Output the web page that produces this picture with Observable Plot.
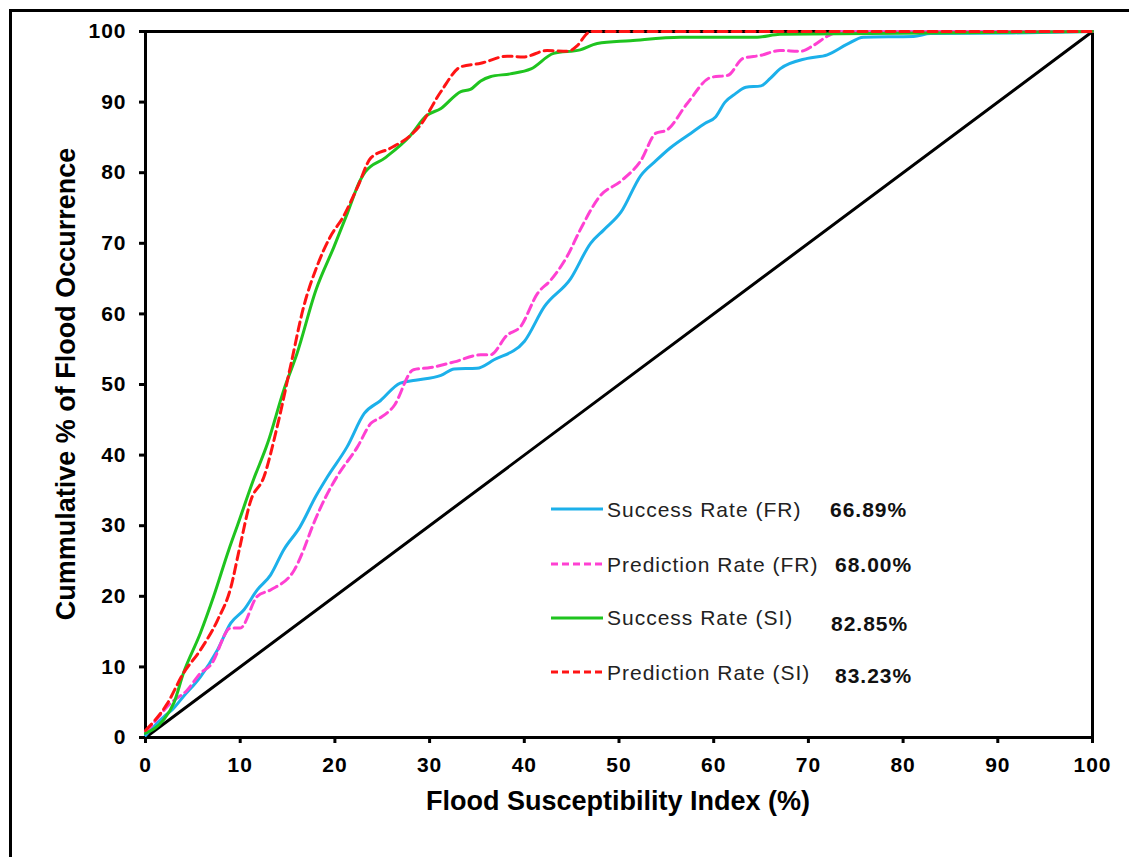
<!DOCTYPE html>
<html>
<head>
<meta charset="utf-8">
<script src="https://cdn.jsdelivr.net/npm/d3@7"></script>
<script src="https://cdn.jsdelivr.net/npm/@observablehq/plot@0.6"></script>
<style>
  html, body { margin: 0; padding: 0; background: #fff; }
  #wrap { position: relative; width: 1129px; height: 857px; overflow: hidden; }
  #border { position: absolute; left: 9px; top: 9px; right: -10px; bottom: -10px;
            border-top: 3px solid #000; border-left: 3px solid #000; pointer-events: none; }
  #wrap svg { position: absolute; left: 0; top: 0; }
  g[aria-label="x-axis tick label"] text, g[aria-label="y-axis tick label"] text { letter-spacing: 1px; }
</style>
</head>
<body>
<div id="wrap"><div id="border"></div></div>
<script>
// ---- data ----
const seriesNames = ["Success Rate (FR)", "Prediction Rate (FR)", "Success Rate (SI)", "Prediction Rate (SI)"];
const aucLabels = ["66.89%", "68.00%", "82.85%", "83.23%"];
const xTicks = [0, 10, 20, 30, 40, 50, 60, 70, 80, 90, 100];
const yTicks = [0, 10, 20, 30, 40, 50, 60, 70, 80, 90, 100];

const successFR_x = [0, 1.9, 2.8, 4.0, 5.8, 7.6, 9.0, 10.4, 11.8, 13.2, 14.6, 16.3, 18.0, 19.2, 21.3, 23.1, 24.8, 26.9, 28.5, 31.2, 32.6, 35.0, 36.8, 40.0, 42.1, 44.9, 47.0, 48.4, 50.2, 52.3, 53.9, 55.4, 57.6, 59.1, 60.2, 61.2, 62.3, 63.4, 65.0, 66.0, 67.0, 69.9, 72.0, 74.1, 75.8, 81.1, 82.9, 91.7, 100];
const successFR_y = [0.3, 2.9, 3.9, 5.8, 8.6, 12.4, 16.2, 18.1, 20.9, 23.0, 26.6, 29.8, 34.2, 36.9, 41.2, 45.9, 47.7, 50.2, 50.6, 51.3, 52.2, 52.3, 53.5, 56.1, 61.0, 65.0, 70.0, 71.9, 74.4, 79.6, 81.7, 83.5, 85.6, 87.0, 87.9, 90.0, 91.2, 92.1, 92.3, 93.4, 94.7, 96.2, 96.7, 98.2, 99.2, 99.3, 99.7, 99.8, 100];

const predictionFR_x = [0, 0.5, 2.6, 4.4, 5.8, 6.9, 9.0, 10.0, 11.8, 13.2, 15.7, 16.7, 17.6, 19.0, 20.2, 22.4, 23.8, 24.8, 26.2, 28.3, 30.1, 32.6, 35.4, 36.4, 38.2, 39.6, 41.4, 42.8, 44.5, 45.9, 48.0, 50.2, 52.3, 53.9, 55.0, 57.2, 59.7, 61.5, 63.1, 64.9, 67.0, 69.2, 70.5, 72.1, 73.5, 100];
const predictionFR_y = [0.8, 1.5, 4.8, 6.7, 9.1, 10.3, 15.5, 15.5, 20.0, 20.9, 23.7, 26.6, 29.8, 34.0, 36.9, 41.2, 44.5, 45.3, 46.9, 52.1, 52.4, 53.2, 54.2, 54.2, 57.0, 58.2, 62.9, 64.8, 68.1, 71.9, 76.7, 78.8, 81.7, 85.6, 86.0, 89.8, 93.5, 93.8, 96.2, 96.6, 97.3, 97.2, 98.0, 99.4, 100, 100];

const successSI_x = [0, 1.9, 3.0, 4.0, 5.8, 7.2, 8.8, 9.7, 11.4, 12.9, 14.6, 16.0, 18.0, 19.9, 21.3, 22.7, 23.2, 25.3, 28.0, 29.6, 31.2, 33.3, 34.3, 35.4, 36.4, 38.5, 40.7, 43.1, 45.9, 47.7, 51.2, 56.5, 64.6, 67.0, 100];
const successSI_y = [0.6, 2.5, 4.9, 9.1, 14.8, 20.0, 26.6, 30.0, 36.5, 41.7, 49.2, 54.4, 63.4, 69.5, 74.2, 79.0, 80.1, 82.1, 85.3, 88.0, 89.1, 91.5, 91.8, 93.0, 93.6, 94.0, 94.7, 96.9, 97.4, 98.3, 98.7, 99.2, 99.2, 99.6, 100];

const predictionSI_x = [0, 2.3, 4.0, 5.8, 7.6, 9.0, 9.9, 11.1, 12.5, 13.9, 15.3, 16.7, 18.1, 19.5, 20.9, 22.4, 23.8, 25.9, 28.0, 29.0, 31.2, 33.3, 35.4, 38.2, 39.9, 42.4, 44.6, 45.6, 46.7, 47.2, 100];
const predictionSI_y = [1.0, 4.8, 9.1, 12.4, 16.6, 21.2, 26.6, 33.5, 36.9, 44.0, 52.5, 61.0, 66.7, 70.9, 73.8, 78.0, 82.1, 83.5, 85.3, 86.7, 91.5, 95.0, 95.5, 96.5, 96.4, 97.3, 97.2, 98.0, 99.8, 100, 100];

const refLine = [0, 100];

// ---- styles ----
const colors = ["#1CB0EA", "#FF40D2", "#1FC41F", "#FF1414"];
const dashes = [null, "9,5", null, "9,5"];
const FONT = "'Liberation Sans', Arial, Helvetica, sans-serif";

const toRows = (xs, ys) => xs.map((x, i) => ({x, y: ys[i]}));
const allSeries = [
  toRows(successFR_x, successFR_y),
  toRows(predictionFR_x, predictionFR_y),
  toRows(successSI_x, successSI_y),
  toRows(predictionSI_x, predictionSI_y)
];
const diag = refLine.map(v => ({x: v, y: v}));

const W = 1129, H = 857;
const mL = 145, mR = 37, mT = 31, mB = 120;

const chart = Plot.plot({
  width: W, height: H,
  marginLeft: mL, marginRight: mR, marginTop: mT, marginBottom: mB,
  style: {fontFamily: FONT, background: "transparent", color: "#000"},
  x: {domain: [0, 100]},
  y: {domain: [0, 100]},
  marks: [
    Plot.line(diag, {x: "x", y: "y", stroke: "#000", strokeWidth: 3}),
    Plot.frame({stroke: "#000", strokeWidth: 3}),
    ...allSeries.map((rows, i) => Plot.line(rows, {
      x: "x", y: "y", stroke: colors[i], strokeWidth: 3,
      strokeDasharray: dashes[i] || undefined, curve: "monotone-x"
    })),
    Plot.axisX({ticks: xTicks, tickSize: 6, tickPadding: 14, strokeWidth: 3, stroke: "#000",
      fontSize: 21, fontWeight: "bold", fill: "#000", label: null}),
    Plot.axisY({ticks: yTicks, tickSize: 6, tickPadding: 13, strokeWidth: 3, stroke: "#000",
      fontSize: 21, fontWeight: "bold", fill: "#000", label: null})
  ]
});
document.getElementById("wrap").appendChild(chart);

const svg = d3.select(chart);
// axis titles
svg.append("text").attr("x", 618).attr("y", 810).attr("text-anchor", "middle")
  .attr("font-family", FONT).attr("font-size", 27).attr("font-weight", "bold").attr("fill", "#000")
  .text("Flood Susceptibility Index (%)");
svg.append("text").attr("transform", "translate(75,384) rotate(-90)").attr("text-anchor", "middle")
  .attr("font-family", FONT).attr("font-size", 27).attr("font-weight", "bold").attr("fill", "#000")
  .text("Cummulative % of Flood Occurrence");

// legend
const legLineY = [509, 564, 618, 672];
const legTextY = [517, 572, 625, 680];
const legValX = [830, 835, 831, 835];
const legValY = [517, 572, 631, 683];
const lg = svg.append("g").attr("aria-label", "legend").attr("text-anchor", "start");
seriesNames.forEach((name, i) => {
  lg.append("line").attr("x1", 551).attr("x2", 603).attr("y1", legLineY[i]).attr("y2", legLineY[i])
    .attr("stroke", colors[i]).attr("stroke-width", 3)
    .attr("stroke-dasharray", dashes[i] ? "7,4" : null);
  lg.append("text").attr("x", 607).attr("y", legTextY[i]).attr("text-anchor", "start")
    .attr("font-family", FONT).attr("font-size", 21).attr("fill", "#222")
    .attr("letter-spacing", "1px").text(name);
  lg.append("text").attr("x", legValX[i]).attr("y", legValY[i]).attr("text-anchor", "start")
    .attr("font-family", FONT).attr("font-size", 21).attr("font-weight", "bold").attr("fill", "#111")
    .attr("letter-spacing", "1px").text(aucLabels[i]);
});
</script>
</body>
</html>
